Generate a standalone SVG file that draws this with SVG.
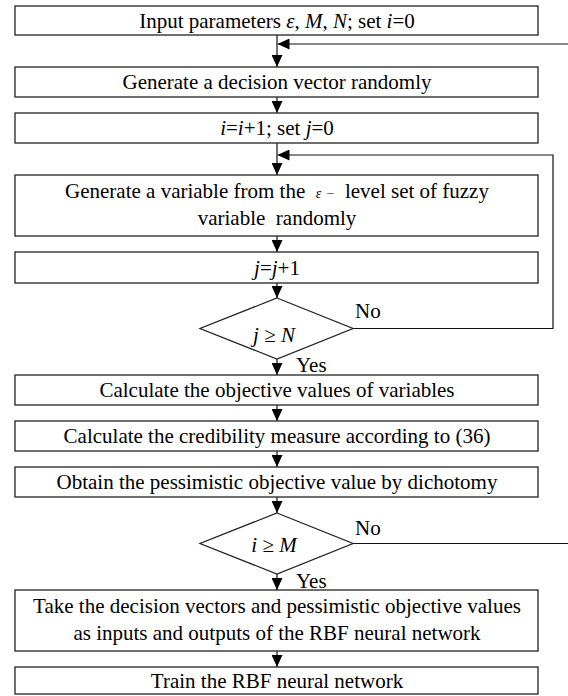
<svg xmlns="http://www.w3.org/2000/svg" width="568" height="696" viewBox="0 0 568 696">
<defs>
<style>
.box{fill:#fff;stroke:#222;stroke-width:1.3}
.ln{fill:none;stroke:#111;stroke-width:1.2}
text{font-family:"Liberation Serif","Times New Roman",serif;font-size:21px;fill:#000}
.c{text-anchor:middle}
.i{font-style:italic}
</style>
<marker id="ah" markerUnits="userSpaceOnUse" markerWidth="12" markerHeight="11" refX="12" refY="5.5" orient="auto">
<path d="M0,0 L12,5.5 L0,11 Z" fill="#000"/>
</marker>
</defs>
<rect width="568" height="696" fill="#fff"/>
<g id="connectors">
<line class="ln" x1="277" y1="35" x2="277" y2="67" marker-end="url(#ah)"/>
<line class="ln" x1="568" y1="44" x2="277.5" y2="44" marker-end="url(#ah)"/>
<line class="ln" x1="277" y1="97" x2="277" y2="113" marker-end="url(#ah)"/>
<line class="ln" x1="277" y1="143" x2="277" y2="175" marker-end="url(#ah)"/>
<polyline class="ln" points="353,328.5 553,328.5 553,155 277.5,155" marker-end="url(#ah)"/>
<line class="ln" x1="277" y1="236" x2="277" y2="252" marker-end="url(#ah)"/>
<line class="ln" x1="277" y1="283" x2="277" y2="298" marker-end="url(#ah)"/>
<line class="ln" x1="277" y1="359" x2="277" y2="375" marker-end="url(#ah)"/>
<line class="ln" x1="277" y1="405" x2="277" y2="421" marker-end="url(#ah)"/>
<line class="ln" x1="277" y1="451" x2="277" y2="467" marker-end="url(#ah)"/>
<line class="ln" x1="277" y1="497" x2="277" y2="513" marker-end="url(#ah)"/>
<line class="ln" x1="353" y1="543.5" x2="568" y2="543.5"/>
<line class="ln" x1="277" y1="574" x2="277" y2="590" marker-end="url(#ah)"/>
<line class="ln" x1="277" y1="651" x2="277" y2="667" marker-end="url(#ah)"/>
</g>
<g id="n1"><rect class="box" x="15" y="6" width="523" height="29"/>
<text class="c" x="277" y="28">Input parameters <tspan class="i">ε</tspan>, <tspan class="i">M</tspan>, <tspan class="i">N</tspan>; set <tspan class="i">i</tspan>=0</text></g>
<g id="n2"><rect class="box" x="15" y="67" width="523" height="30"/>
<text class="c" x="277" y="89">Generate a decision vector randomly</text></g>
<g id="n3"><rect class="box" x="15" y="113" width="523" height="30"/>
<text class="c" x="277" y="135"><tspan class="i">i</tspan>=<tspan class="i">i</tspan>+1; set <tspan class="i">j</tspan>=0</text></g>
<g id="n4"><rect class="box" x="15" y="175" width="523" height="61"/>
<text class="c" x="277" y="198" xml:space="preserve">Generate a variable from the  <tspan class="i" font-size="14">ε</tspan> <tspan font-size="14" fill="#444">−</tspan>  level set of fuzzy</text>
<text class="c" x="277" y="225" xml:space="preserve">variable  randomly</text></g>
<g id="n5"><rect class="box" x="15" y="252" width="523" height="31"/>
<text class="c" x="277" y="275"><tspan class="i">j</tspan>=<tspan class="i">j</tspan>+1</text></g>
<g id="d1"><polygon class="box" points="277,298 353,328.5 277,359 200,328.5"/>
<text class="c" x="274" y="342"><tspan class="i">j</tspan> ≥ <tspan class="i">N</tspan></text>
<text x="355" y="318">No</text><text x="296" y="372">Yes</text></g>
<g id="n6"><rect class="box" x="15" y="375" width="523" height="30"/>
<text class="c" x="277" y="397">Calculate the objective values of variables</text></g>
<g id="n7"><rect class="box" x="15" y="421" width="523" height="30"/>
<text class="c" x="277" y="443">Calculate the credibility measure according to (36)</text></g>
<g id="n8"><rect class="box" x="15" y="467" width="523" height="30"/>
<text class="c" x="277" y="489">Obtain the pessimistic objective value by dichotomy</text></g>
<g id="d2"><polygon class="box" points="277,513 353,543.5 277,574 200,543.5"/>
<text class="c" x="274" y="552"><tspan class="i">i</tspan> ≥ <tspan class="i">M</tspan></text>
<text x="355" y="535">No</text><text x="296" y="588">Yes</text></g>
<g id="n9"><rect class="box" x="15" y="590" width="523" height="61"/>
<text class="c" x="277" y="613">Take the decision vectors and pessimistic objective values</text>
<text class="c" x="277" y="640">as inputs and outputs of the RBF neural network</text></g>
<g id="n10"><rect class="box" x="15" y="667" width="523" height="27"/>
<text class="c" x="277" y="688">Train the RBF neural network</text></g>
</svg>
